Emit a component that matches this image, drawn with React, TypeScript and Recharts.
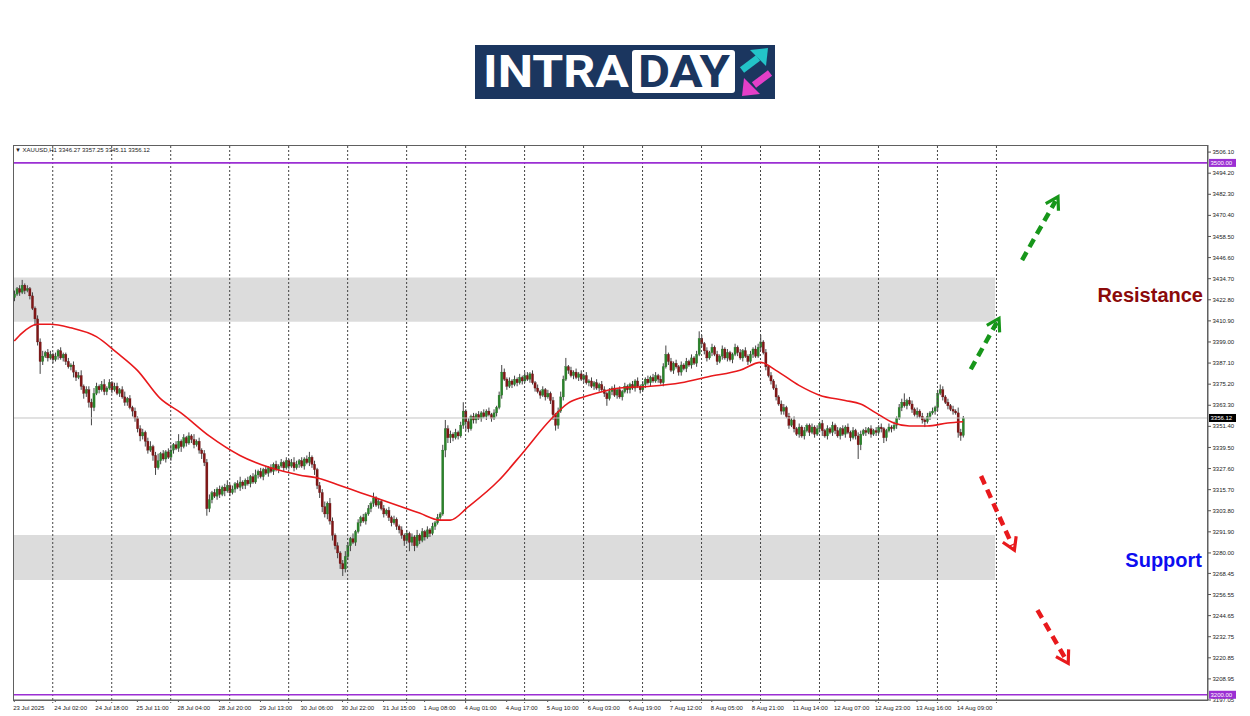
import React from 'react';
import { ComposedChart, Bar, Line, XAxis, YAxis, ReferenceLine, ReferenceArea } from 'recharts';

// ---------- data (XAUUSD H1) ----------
const firstOpen = 3424;
const closes = [
  3426, 3429, 3427, 3431, 3428, 3429, 3425, 3418, 3412, 3399,
  3388, 3391, 3393, 3390, 3392, 3389, 3391, 3394, 3390, 3392,
  3388, 3385, 3386, 3382, 3379, 3380, 3374, 3370, 3372, 3365,
  3362, 3370, 3374, 3372, 3375, 3371, 3373, 3376, 3372, 3374,
  3370, 3372, 3368, 3365, 3367, 3362, 3360, 3356, 3350, 3346,
  3348, 3343, 3338, 3340, 3335, 3328, 3332, 3336, 3333, 3337,
  3334, 3338, 3341, 3339, 3343, 3340, 3345, 3342, 3346, 3344,
  3341, 3343, 3338, 3336, 3331, 3305, 3310, 3314, 3312, 3316,
  3313, 3317, 3315, 3318, 3314, 3316, 3319, 3317, 3320, 3318,
  3321, 3319, 3323, 3320, 3324, 3326, 3323, 3327, 3325, 3328,
  3326, 3330, 3327, 3329, 3331, 3328, 3332, 3329, 3331, 3328,
  3330, 3332, 3329, 3333, 3331, 3334, 3330, 3327, 3318, 3314,
  3306, 3302, 3308, 3298, 3290, 3284, 3280, 3274, 3271, 3278,
  3284, 3288, 3286, 3292, 3297, 3300, 3298, 3302, 3305, 3308,
  3311, 3307, 3309, 3305, 3302, 3304, 3300, 3297, 3299, 3295,
  3293, 3290, 3287, 3291, 3286, 3289, 3284, 3290, 3287, 3292,
  3289, 3293, 3291, 3295, 3297, 3300, 3302, 3338, 3350, 3345,
  3347, 3345, 3348, 3346, 3352, 3360, 3354, 3350, 3357, 3355,
  3358, 3356, 3359, 3357, 3360, 3358, 3356, 3359, 3362, 3369,
  3382, 3378, 3374, 3377, 3375, 3378, 3376, 3379, 3377, 3380,
  3378, 3381, 3376, 3373, 3371, 3369, 3372, 3368, 3370, 3366,
  3358, 3352, 3360, 3368, 3378, 3385, 3383, 3380, 3382, 3379,
  3381, 3378, 3380, 3376, 3377, 3374, 3376, 3373, 3375, 3372,
  3370, 3367, 3371, 3373, 3369, 3372, 3368, 3371, 3374, 3372,
  3375, 3373, 3377, 3374, 3372, 3375, 3378, 3376, 3379, 3377,
  3380, 3378, 3376, 3385, 3392, 3388, 3383, 3387, 3385, 3382,
  3386, 3384, 3388, 3386, 3390, 3387, 3392, 3401, 3398, 3394,
  3390, 3393, 3396, 3392, 3388, 3391, 3395, 3390, 3393, 3389,
  3392, 3396, 3393, 3390, 3394, 3391, 3388, 3392, 3395, 3391,
  3396, 3399, 3393, 3385, 3380, 3377, 3373, 3368, 3364, 3360,
  3362, 3357, 3352, 3355, 3350, 3347, 3351, 3346, 3349, 3352,
  3348, 3351, 3347, 3350, 3353, 3349, 3346, 3350, 3348, 3352,
  3349, 3346, 3350, 3347, 3351, 3348, 3345, 3349, 3346, 3341,
  3347, 3349, 3348, 3350, 3347, 3349, 3348, 3351, 3350, 3345,
  3349, 3351, 3350, 3352, 3356, 3362, 3365, 3363, 3366, 3364,
  3361, 3358, 3360, 3357, 3355, 3354, 3357, 3359, 3360, 3362,
  3370, 3372, 3368, 3365, 3363, 3361, 3360, 3359, 3348, 3346.27, 3356.12,
];
const upperWicks = [
  2,1,2,3,1,2,1,2,1,2, 2,3,1,2,2,1,2,1,2,1, 1,2,1,2,1,2,3,1,2,2, 2,3,2,1,2,3,1,2,1,2,
  2,1,2,3,1,2,1,2,1,2, 2,1,2,3,1,2,4,1,2,1, 2,3,1,2,4,1,2,1,2,1, 3,1,2,1,2,2,3,1,2,1,
  2,1,2,3,1,2,1,2,3,1, 1,2,1,2,3,1,2,1,2,1, 2,1,2,1,2,1,2,1,2,3, 2,1,2,1,2,3,1,2,1,2,
  2,3,1,3,2,1,2,1,2,3, 2,1,3,1,2,1,2,1,2,1, 3,1,2,1,2,1,2,1,2,1, 1,2,1,2,1,2,1,3,1,2,
  1,2,1,2,1,2,1,3,5,2, 2,1,2,1,2,5,1,2,1,2, 1,2,1,2,1,2,1,2,1,2, 4,2,1,2,1,2,1,2,1,2,
  2,1,2,1,2,1,2,1,2,1, 2,1,2,3,2,5,1,2,1,2, 1,2,1,2,1,2,1,2,1,2, 2,1,2,1,2,1,2,1,2,1,
  1,2,1,2,1,2,1,2,1,2, 2,1,2,2,5,1,2,1,2,1, 2,1,2,1,2,1,2,4,2,1, 2,1,2,1,2,1,2,1,2,1,
  1,2,1,2,1,2,1,2,1,2, 2,4,1,2,1,2,1,2,1,2, 2,1,2,1,2,1,2,1,2,1, 1,2,1,2,1,2,1,2,1,2,
  1,2,1,2,1,2,1,2,1,2, 2,1,2,1,2,1,2,1,2,1, 1,2,1,2,1,2,2,5,1,2, 2,1,2,1,2,1,2,1,2,1,
  2,3,2,1,2,1,2,1,3,2,1.13,
];
const lowerWicks = [
  2,1,2,1,2,1,2,1,4,2, 7,2,1,2,1,2,1,2,1,2, 2,1,2,3,2,1,2,3,2,3, 10,2,1,2,1,2,2,1,2,1,
  1,2,1,2,2,1,3,2,2,3, 2,3,2,1,3,4,1,2,1,2, 1,2,2,1,2,3,1,2,1,2, 2,1,2,3,2,4,2,2,1,2,
  2,1,3,1,2,1,2,1,2,2, 2,1,2,1,1,2,1,2,1,2, 1,2,1,2,1,2,1,2,1,2, 1,2,1,2,1,2,2,3,2,3,
  3,2,3,2,3,2,3,3,4,2, 2,3,1,2,1,2,1,2,1,2, 2,1,2,1,2,1,2,2,1,2, 2,2,3,1,5,2,3,1,2,1,
  2,1,2,1,2,1,2,1,4,3, 3,2,1,2,1,2,5,2,1,2, 2,1,2,1,2,1,2,1,2,1, 2,1,2,1,2,1,2,1,2,1,
  1,2,1,2,1,2,1,2,1,2, 3,3,2,1,2,1,2,1,2,1, 2,1,2,1,2,1,2,1,2,1, 2,4,1,2,1,2,1,2,1,2,
  2,1,2,1,2,1,2,1,2,1, 1,2,1,2,1,2,1,2,1,2, 2,1,2,1,2,1,2,1,2,2, 2,1,2,1,2,1,2,1,2,1,
  2,1,2,1,2,1,2,1,2,1, 1,2,1,2,1,2,1,2,1,2, 2,1,2,1,2,1,2,1,2,1, 2,1,2,1,2,3,1,2,1,2,
  2,1,2,1,2,1,2,1,2,8, 3,1,2,1,2,1,2,1,2,3, 2,1,2,1,2,1,2,1,2,1, 2,1,2,1,2,3,1,2,1,2,
  2,1,2,1,2,1,2,1,3,3,1.16,
];
// moving average (red line), read at these bar positions
const maIdx = [0, 3, 9, 14, 22, 32, 40, 48, 57, 65, 76, 88, 100, 111, 119, 127, 135, 147, 158, 166, 170, 177, 189, 198, 209, 216, 222, 228, 236, 248, 260, 271, 283, 291, 297, 306, 314, 324, 330, 336, 343, 349, 356, 364, 370];
const maVals = [3399.5, 3404, 3409, 3409, 3407, 3402, 3393, 3383, 3367, 3359, 3346, 3335, 3328, 3324, 3322, 3318, 3314, 3308, 3302.5, 3298.5, 3298.5, 3306, 3321, 3336, 3355, 3364.5, 3368, 3370.5, 3373, 3374, 3376, 3379.5, 3383, 3387.5, 3383, 3374.5, 3369, 3366, 3364, 3359, 3353.3, 3351.6, 3351.6, 3353.3, 3354];

const TOTAL_SLOTS = 466;
const xLabelIdx = [0, 16, 32, 48, 64, 80, 96, 112, 128, 144, 160, 176, 192, 208, 224, 240, 256, 272, 288, 304, 320, 336, 352, 368];
const xLabels = ['23 Jul 2025', '24 Jul 02:00', '24 Jul 18:00', '25 Jul 11:00', '28 Jul 04:00', '28 Jul 20:00', '29 Jul 13:00', '30 Jul 06:00', '30 Jul 22:00', '31 Jul 15:00', '1 Aug 08:00', '4 Aug 01:00', '4 Aug 17:00', '5 Aug 10:00', '6 Aug 03:00', '6 Aug 19:00', '7 Aug 12:00', '8 Aug 05:00', '8 Aug 21:00', '11 Aug 14:00', '12 Aug 07:00', '12 Aug 23:00', '13 Aug 16:00', '14 Aug 09:00'];
const dayIdx = [15, 38, 61, 84, 107, 130, 153, 176, 199, 222, 245, 268, 291, 314, 337, 360, 383];
const yTickValues = [3506.10, 3494.20, 3482.30, 3470.40, 3458.50, 3446.60, 3434.70, 3422.80, 3410.90, 3399.00, 3387.10, 3375.20, 3363.30, 3351.40, 3339.50, 3327.60, 3315.70, 3303.80, 3291.90, 3280.00, 3268.45, 3256.55, 3244.65, 3232.75, 3220.85, 3208.95, 3197.05];
const yDomain = [3197.05, 3510.1];
const upperLevel = 3500;
const lowerLevel = 3200;
const lastPrice = 3356.12;
const resistanceZone = [3410.4, 3435.4];
const supportZone = [3264.7, 3290.1];
const zoneEndIdx = 382;
const bullArrows = [
  [{ x: 373, y: 3383.6 }, { x: 384, y: 3412.3 }],
  [{ x: 393, y: 3445.2 }, { x: 407, y: 3480.9 }],
];
const bearArrows = [
  [{ x: 377, y: 3323.4 }, { x: 390, y: 3281.6 }],
  [{ x: 399, y: 3247.8 }, { x: 411, y: 3217.7 }],
];
const headerText = '\u25BC XAUUSD,H1  3346.27 3357.25 3345.11 3356.12';

// ---------- build table ----------
const data = Array.from({ length: TOTAL_SLOTS }, (_, i) => {
  const row: any = { i };
  if (i < closes.length) {
    const o = i === 0 ? firstOpen : closes[i - 1];
    const c = closes[i];
    const h = Math.max(o, c) + upperWicks[i];
    const l = Math.min(o, c) - lowerWicks[i];
    row.o = o; row.c = c; row.h = h; row.l = l; row.range = [l, h];
  }
  const k = maIdx.indexOf(i);
  if (k >= 0) row.ma = maVals[k];
  return row;
});

const AXIS_FONT = '"Liberation Sans", Arial, sans-serif';
const PURPLE = '#9b2fd3';

const Candle = (props: any) => {
  const { x, y, width, height, payload } = props;
  if (!payload || payload.h == null || x == null) return null;
  const top = Math.min(y, y + height);
  const bot = Math.max(y, y + height);
  const span = payload.h - payload.l || 1;
  const py = (v: number) => top + ((payload.h - v) / span) * (bot - top);
  const cx = x + width / 2;
  const yo = py(payload.o);
  const yc = py(payload.c);
  const bull = payload.c >= payload.o;
  const bt = Math.min(yo, yc);
  const bh = Math.max(Math.abs(yo - yc), 0.8);
  return (
    <g>
      <line x1={cx} x2={cx} y1={top} y2={bot} stroke="#444" strokeWidth={1} />
      <rect x={cx - 1.1} y={bt} width={2.2} height={bh} fill={bull ? '#2a832a' : '#821616'} stroke={bull ? '#2a6a2a' : '#5a1010'} strokeWidth={0.3} />
    </g>
  );
};

const XTick = (props: any) => {
  const { x, y, payload } = props;
  const i = payload.value;
  const li = xLabelIdx.indexOf(i);
  const isDay = dayIdx.indexOf(i) >= 0;
  if (li < 0 && !isDay) return null;
  return (
    <g>
      {isDay && <line x1={x} x2={x} y1={y} y2={y + 4} stroke="#555" strokeDasharray="1 1" />}
      {li >= 0 && <line x1={x} x2={x} y1={y} y2={y + 2} stroke="#555" />}
      {li >= 0 && (
        <text x={x - 1} y={y + 10} fontSize={6} fontFamily={AXIS_FONT} fill="#222" textAnchor="start">
          {xLabels[li]}
        </text>
      )}
    </g>
  );
};

const YTick = (props: any) => {
  const { x, y, payload } = props;
  const v = payload.value;
  const label = Number(v).toFixed(2);
  if (v === upperLevel || v === lowerLevel || v === lastPrice) {
    const bg = v === lastPrice ? '#000' : PURPLE;
    return (
      <g>
        <rect x={x + 1} y={y - 4} width={27} height={8} fill={bg} />
        <text x={x + 2.5} y={y} dy="0.35em" fontSize={6} fontFamily={AXIS_FONT} fill="#fff">{label}</text>
      </g>
    );
  }
  return (
    <g>
      <line x1={x} x2={x + 3} y1={y} y2={y} stroke="#555" />
      <text x={x + 4.5} y={y} dy="0.35em" fontSize={6} fontFamily={AXIS_FONT} fill="#222">{label}</text>
    </g>
  );
};

const arrowShape = (color: string) => (p: any) => {
  const { x1, y1, x2, y2 } = p;
  if ([x1, y1, x2, y2].some((v) => v == null || isNaN(v))) return null;
  const ang = Math.atan2(y2 - y1, x2 - x1);
  const L = 14;
  const s = 0.55;
  const ax = x2 - L * Math.cos(ang - s);
  const ay = y2 - L * Math.sin(ang - s);
  const bx = x2 - L * Math.cos(ang + s);
  const by = y2 - L * Math.sin(ang + s);
  const ex = x2 - 5 * Math.cos(ang);
  const ey = y2 - 5 * Math.sin(ang);
  return (
    <g>
      <line x1={x1} y1={y1} x2={ex} y2={ey} stroke={color} strokeWidth={4.5} strokeDasharray="9 6" />
      <polyline points={`${ax},${ay} ${x2},${y2} ${bx},${by}`} fill="none" stroke={color} strokeWidth={3.2} strokeLinejoin="miter" />
    </g>
  );
};

export default function App() {
  return (
    <div style={{ position: 'absolute', left: 0, top: 0, width: 1250, height: 716, background: '#fff', overflow: 'hidden' }}>
      <ComposedChart
        width={1250}
        height={716}
        data={data}
        margin={{ top: 145, right: 0, left: 13, bottom: 0 }}
        barCategoryGap={0}
      >
        <XAxis
          dataKey="i"
          type="category"
          interval={0}
          tick={<XTick />}
          tickLine={false}
          tickSize={0}
          tickMargin={0}
          height={16}
          axisLine={{ stroke: '#606060' }}
        />
        <YAxis
          orientation="right"
          type="number"
          domain={yDomain}
          allowDataOverflow
          ticks={[...yTickValues, upperLevel, lastPrice, lowerLevel]}
          interval={0}
          width={42}
          tick={<YTick />}
          tickLine={false}
          tickSize={0}
          tickMargin={0}
          axisLine={{ stroke: '#606060' }}
        />
        <ReferenceArea x1={0} x2={zoneEndIdx} y1={resistanceZone[0]} y2={resistanceZone[1]} fill="#dcdcdc" fillOpacity={1} stroke="none" />
        <ReferenceArea x1={0} x2={zoneEndIdx} y1={supportZone[0]} y2={supportZone[1]} fill="#dcdcdc" fillOpacity={1} stroke="none" />
        {dayIdx.map((d) => (
          <ReferenceLine key={'d' + d} x={d} stroke="#444" strokeDasharray="2 2" strokeWidth={1} />
        ))}
        <ReferenceLine y={lastPrice} stroke="#c4c4c4" strokeWidth={1} />
        <ReferenceLine y={upperLevel} stroke={PURPLE} strokeWidth={1.6} />
        <ReferenceLine y={lowerLevel} stroke={PURPLE} strokeWidth={1.6} />
        <Bar dataKey="range" shape={<Candle />} isAnimationActive={false} />
        <Line dataKey="ma" type="monotone" stroke="#e8191c" strokeWidth={1.6} dot={false} connectNulls isAnimationActive={false} />
        {bullArrows.map((seg, k) => (
          <ReferenceLine key={'g' + k} segment={seg} ifOverflow="visible" shape={arrowShape('#17961a')} />
        ))}
        {bearArrows.map((seg, k) => (
          <ReferenceLine key={'r' + k} segment={seg} ifOverflow="visible" shape={arrowShape('#e8191c')} />
        ))}
      </ComposedChart>
      <div style={{ position: 'absolute', left: 13, top: 145, width: 1195, height: 556, border: '1px solid #606060', boxSizing: 'border-box', pointerEvents: 'none' }} />
      <svg width={1250} height={716} style={{ position: 'absolute', left: 0, top: 0, pointerEvents: 'none' }}>
        <text x={15} y={152} fontSize={6} fontFamily={AXIS_FONT} fill="#222">{headerText}</text>
        <text x={1203} y={302} textAnchor="end" fontSize={20} fontWeight={700} fontFamily={AXIS_FONT} fill="#8b0a0a">Resistance</text>
        <text x={1202} y={567} textAnchor="end" fontSize={20} fontWeight={700} fontFamily={AXIS_FONT} fill="#0d0df0">Support</text>
        <rect x={475} y={45} width={300} height={54} fill="#1b365f" />
        <text x={483} y={87} fill="#fff" fontFamily="Roboto, sans-serif" fontWeight={700} fontSize={44} textLength={146} lengthAdjust="spacingAndGlyphs">INTRA</text>
        <rect x={632} y={50} width={103} height={43} rx={3} fill="#fff" />
        <text x={638} y={87} fill="#1b365f" fontFamily="Roboto, sans-serif" fontWeight={700} fontSize={44} textLength={92} lengthAdjust="spacingAndGlyphs">DAY</text>
        <line x1={742} y1={70} x2={758} y2={58} stroke="#23c3c8" strokeWidth={7} />
        <polygon points="768,48 750,50 766,66" fill="#23c3c8" />
        <line x1={770} y1={73} x2={754} y2={85} stroke="#e43fc8" strokeWidth={7} />
        <polygon points="742,96 744,78 760,94" fill="#e43fc8" />
      </svg>
    </div>
  );
}
